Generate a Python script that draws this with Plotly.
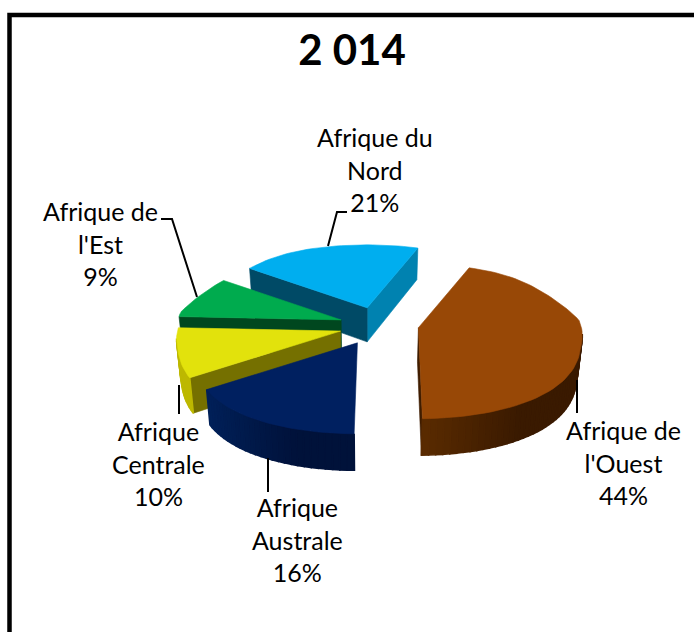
import math
import plotly.graph_objects as go

# ---- data -------------------------------------------------------------
title_text = "2 014"
regions = ["Afrique de l'Ouest", "Afrique Australe", "Afrique Centrale", "Afrique de l'Est", "Afrique du Nord"]
shares = [44, 16, 10, 9, 21]
label_lines = [["Afrique de", "l'Ouest"], ["Afrique", "Australe"], ["Afrique", "Centrale"], ["Afrique de", "l'Est"], ["Afrique du", "Nord"]]

# ---- styles -----------------------------------------------------------
top_colors = ["#984806", "#002060", "#E2E20C", "#00AB4E", "#00AEEF"]
start_face = ["#3F1D00", "#001848", "#757000", "#00471F", "#004A66"]
end_face = ["#3F1D00", "#001848", "#8F8A00", "#00471F", "#0082B0"]
wall_left = ["#5A2B00", "#002058", "#BDB800", "#00471F", "#004A66"]
wall_right = ["#3A1A00", "#00123A", "#BDB800", "#00471F", "#004A66"]
draw_order = [4, 3, 2, 1, 0]
label_pos = [(623, 462), (297, 539), (158, 463), (100, 243), (375, 169)]
leaders = [
    [(577, 380), (577, 413)],
    [(268, 458), (268, 492)],
    [(179, 385), (179, 414)],
    [(197, 297), (172, 219), (161, 219)],
    [(328, 246), (337, 212), (347, 212)],
]
FIRST_ANGLE = 20.5
CX, CY = 379.0, 326.0
EXPLODE_X, EXPLODE_Y = 40.0, 19.0
nudge_x = [0, -3, 0, 0, 0]
nudge_y = [-1.5, 0, 0, 0, 0]
start_inset = [0, 2, 0, 0, 0]
FONT = "Lato"
LABEL_SIZE = 25

# ---- pseudo 3-D projection of the pie ---------------------------------
def rim(theta):
    t = math.radians(theta)
    s, y = math.sin(t), math.cos(t)
    bump = 10 * math.sin(math.pi * min(1, max(0, (y - 0.1) / 0.9)))
    a = 163 - 17 * y + 25 * max(0, -y - 0.2) ** 1.5 * 1.6 - bump
    return a * s, -y * (77 - 14 * y)

def drop(x, y, depth_y):
    return x + (370 - x) * 0.02, y + 34 - 2.5 * depth_y

def hex_mix(a, b, f):
    ca = [int(a[i:i + 2], 16) for i in (1, 3, 5)]
    cb = [int(b[i:i + 2], 16) for i in (1, 3, 5)]
    return "#%02x%02x%02x" % tuple(round(p + (q - p) * f) for p, q in zip(ca, cb))

fig = go.Figure()

def poly(points, color, name, width=0.6):
    fig.add_trace(go.Scatter(
        x=[p[0] for p in points] + [points[0][0]],
        y=[p[1] for p in points] + [points[0][1]],
        mode="lines", fill="toself", fillcolor=color,
        line=dict(color=color, width=width),
        name=name, hoverinfo="name", showlegend=False))

total = sum(shares)
angles = [FIRST_ANGLE]
for v in shares:
    angles.append(angles[-1] + 360 * v / total)

for i in draw_order:
    a0, a1 = angles[i], angles[i + 1]
    mid = math.radians((a0 + a1) / 2)
    ax = CX + EXPLODE_X * math.sin(mid) + nudge_x[i]
    ay = CY - EXPLODE_Y * math.cos(mid) + nudge_y[i]
    a0 += start_inset[i]
    name = regions[i]
    n = max(6, int((a1 - a0) / 2))
    thetas = [a0 + (a1 - a0) * k / n for k in range(n + 1)]
    top = []
    for th in thetas:
        dx, dy = rim(th)
        top.append((ax + dx, ay + dy))
    apex_b = drop(ax, ay, 0)

    def low(th, pt):
        return drop(pt[0], pt[1], math.cos(math.radians(th)))

    # cut faces turned towards the viewer
    if math.cos(math.radians(a1 + 90)) < 0.05:
        poly([(ax, ay), top[-1], low(thetas[-1], top[-1]), apex_b], end_face[i], name)
    if math.cos(math.radians(a0 - 90)) < 0.05 and i != 1:
        poly([(ax, ay), top[0], low(thetas[0], top[0]), apex_b], start_face[i], name)
    # outer wall, shaded strip by strip (overlapping strokes hide the seams)
    xs = [p[0] for p in top]
    for k in range(n):
        mid_th = (thetas[k] + thetas[k + 1]) / 2
        if math.cos(math.radians(mid_th)) < -0.08:
            f = min(1, max(0, ((top[k][0] + top[k + 1][0]) / 2 - min(xs)) / max(1, (max(xs) - min(xs)) * 0.6)))
            poly([top[k], top[k + 1], low(thetas[k + 1], top[k + 1]), low(thetas[k], top[k])],
                 hex_mix(wall_left[i], wall_right[i], f), name, width=1.6)
    poly([(ax, ay)] + top, top_colors[i], name)

annotations = []
for i in range(len(regions)):
    text = "<br>".join(label_lines[i] + [f"{shares[i]}%"])
    annotations.append(dict(x=label_pos[i][0], y=label_pos[i][1], xref="x", yref="y", text=text,
                            showarrow=False, align="center", xanchor="center", yanchor="middle",
                            font=dict(family=FONT, size=LABEL_SIZE, color="black")))

shapes = [dict(type="rect", xref="x", yref="y", x0=9.5, y0=15, x1=760, y1=700,
               line=dict(color="black", width=4.5), layer="below")]
for pts in leaders:
    path = "M " + " L ".join(f"{x},{y}" for x, y in pts)
    shapes.append(dict(type="path", xref="x", yref="y", path=path, line=dict(color="black", width=2)))

fig.update_layout(
    width=694, height=632, margin=dict(l=0, r=0, t=0, b=0),
    paper_bgcolor="white", plot_bgcolor="white", showlegend=False,
    xaxis=dict(range=[0, 694], visible=False, fixedrange=True),
    yaxis=dict(range=[632, 0], visible=False, fixedrange=True),
    title=dict(text=f"<b>{title_text}</b>", x=352 / 694, y=1 - 50 / 632, xanchor="center", yanchor="middle",
               font=dict(family=FONT, size=42, color="black")),
    annotations=annotations, shapes=shapes,
)
fig.write_html("out.html", config={"displayModeBar": False},
               post_script="document.body.style.margin='0';")
